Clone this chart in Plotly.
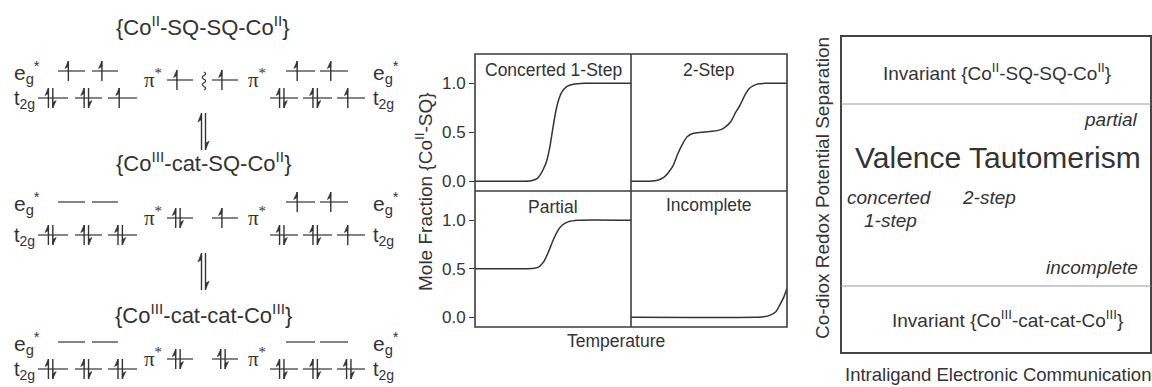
import plotly.graph_objects as go

# ---------------- data ----------------
t_concerted = [0.0, 0.30, 0.36, 0.40, 0.42, 0.44, 0.46, 0.48, 0.50, 0.52, 0.54, 0.56, 0.59, 0.63, 0.70, 1.0]
y_concerted = [0.0, 0.0, 0.005, 0.03, 0.07, 0.13, 0.21, 0.35, 0.55, 0.73, 0.85, 0.92, 0.97, 0.99, 1.0, 1.0]

t_two_step = [0.0, 0.12, 0.17, 0.21, 0.24, 0.27, 0.30, 0.33, 0.36, 0.40, 0.45, 0.52, 0.58, 0.61,
              0.64, 0.67, 0.70, 0.73, 0.76, 0.79, 0.82, 0.86, 1.0]
y_two_step = [0.0, 0.0, 0.01, 0.04, 0.09, 0.16, 0.28, 0.38, 0.455, 0.49, 0.50, 0.51, 0.53, 0.56,
              0.61, 0.70, 0.78, 0.88, 0.95, 0.98, 0.995, 1.0, 1.0]

t_partial = [0.0, 0.34, 0.38, 0.41, 0.44, 0.47, 0.50, 0.53, 0.56, 0.60, 0.66, 1.0]
y_partial = [0.5, 0.5, 0.505, 0.52, 0.57, 0.67, 0.79, 0.89, 0.95, 0.985, 1.0, 1.0]

t_incomplete = [0.0, 0.80, 0.85, 0.89, 0.93, 0.955, 0.98, 1.0]
y_incomplete = [0.0, 0.0, 0.005, 0.02, 0.06, 0.13, 0.21, 0.30]

tick_vals = [0.0, 0.5, 1.0]
tick_text = ["0.0", "0.5", "1.0"]
panel_titles = ["Concerted 1-Step", "2-Step", "Partial", "Incomplete"]

# electron occupancy of the level diagrams: 0 empty, 1 up, 2 pair
occ_left_eg = [[1, 1], [0, 0], [0, 0]]
occ_left_t2g = [[2, 2, 1], [2, 2, 2], [2, 2, 2]]
occ_left_pi = [1, 2, 2]
occ_right_pi = [1, 1, 2]
occ_right_eg = [[1, 1], [1, 1], [0, 0]]
occ_right_t2g = [[2, 2, 1], [2, 2, 1], [2, 2, 2]]
state_titles = ["{Co<sup>II</sup>-SQ-SQ-Co<sup>II</sup>}",
                "{Co<sup>III</sup>-cat-SQ-Co<sup>II</sup>}",
                "{Co<sup>III</sup>-cat-cat-Co<sup>III</sup>}"]
coupled = [True, False, False]

# ---------------- styling / geometry ----------------
W, H = 1152, 387
FONT = "Liberation Sans, Arial, sans-serif"
SERIF = "Liberation Serif, Times New Roman, serif"
INK = "#333333"
FRAME = "#3c3c3c"

fig = go.Figure()

L, M, R = 475, 631, 787
T, MID, B = 54, 191, 327


def dom_x(a, b):
    return [a / W, b / W]


def dom_y(top, bottom):
    return [1 - bottom / H, 1 - top / H]


panels = [
    ("", [L, M], [T, MID], t_concerted, y_concerted, True),
    ("2", [M, R], [T, MID], t_two_step, y_two_step, False),
    ("3", [L, M], [MID, B], t_partial, y_partial, True),
    ("4", [M, R], [MID, B], t_incomplete, y_incomplete, False),
]

for i, (n, xd, yd, tx, ty, left) in enumerate(panels):
    fig.add_trace(go.Scatter(x=tx, y=ty, mode="lines", xaxis="x" + n, yaxis="y" + n,
                             line=dict(color=INK, width=1.5, shape="spline", smoothing=0.6),
                             hoverinfo="skip", showlegend=False))
    fig.update_layout(**{
        "xaxis" + n: dict(domain=dom_x(*xd), range=[0, 1], anchor="y" + n, showgrid=False,
                          zeroline=False, showticklabels=False, ticks="", showline=False,
                          fixedrange=True),
        "yaxis" + n: dict(domain=dom_y(*yd), range=[-0.1, 1.3], anchor="x" + n, showgrid=False,
                          zeroline=False, showline=False, tickvals=tick_vals, ticktext=tick_text,
                          showticklabels=left, ticks="outside" if left else "",
                          ticklen=5, tickwidth=1.2, tickcolor=INK, fixedrange=True,
                          tickfont=dict(family=FONT, size=17, color=INK)),
    })

# pixel-space overlay axis for diagram + right panel
fig.add_trace(go.Scatter(x=[None], y=[None], xaxis="x5", yaxis="y5", showlegend=False,
                         hoverinfo="skip"))
fig.update_layout(
    xaxis5=dict(domain=[0, 1], range=[0, W], visible=False, anchor="y5", fixedrange=True),
    yaxis5=dict(domain=[0, 1], range=[H, 0], visible=False, anchor="x5", fixedrange=True),
)

shapes = []
ann = []


def A(x, y, text, size=17, xanchor="center", yanchor="middle", family=FONT, textangle=0):
    ann.append(dict(x=x, y=y, xref="x5", yref="y5", text=text, showarrow=False,
                    xanchor=xanchor, yanchor=yanchor, textangle=textangle,
                    font=dict(family=family, size=size, color=INK)))


def line(x0, y0, x1, y1, color=INK, width=1.2):
    shapes.append(dict(type="line", xref="x5", yref="y5", x0=x0, y0=y0, x1=x1, y1=y1,
                       line=dict(color=color, width=width)))


def barb(path):
    shapes.append(dict(type="path", xref="x5", yref="y5", path=path, fillcolor=INK,
                       line=dict(color=INK, width=0.6)))


def up(x, yc, h=10):
    line(x, yc + h, x, yc - h, width=1.4)
    barb(f"M {x},{yc-h} L {x-3.4},{yc-h+7.5} L {x},{yc-h+5.5} Z")


def down(x, yc, h=10):
    line(x, yc - h, x, yc + h, width=1.4)
    barb(f"M {x},{yc+h} L {x+3.4},{yc+h-7.5} L {x},{yc+h-5.5} Z")


def level(xa, xb, y, occ):
    line(xa, y, xb, y, width=1.2)
    c = xa + 0.42 * (xb - xa)
    if occ == 1:
        up(c - 1, y)
    elif occ == 2:
        up(c - 2.2, y)
        down(c + 2.2, y)


L_T2G = [(38, 68), (75, 102), (108, 137)]
L_EG = [(58, 85), (92, 118)]
L_PI = (167, 193)
R_PI = (212, 238)
R_EG = [(286, 315), (320, 348)]
R_T2G = [(270, 298), (303, 332), (337, 365)]

rows = [dict(title=26, eg=71, pi=80, t2g=98),
        dict(title=162, eg=202, pi=218, t2g=235),
        dict(title=314, eg=342, pi=359, t2g=369)]

for r, g in enumerate(rows):
    A(203, g["title"], state_titles[r], size=22)
    for k, (a, b) in enumerate(L_EG):
        level(a, b, g["eg"], occ_left_eg[r][k])
    for k, (a, b) in enumerate(L_T2G):
        level(a, b, g["t2g"], occ_left_t2g[r][k])
    for k, (a, b) in enumerate(R_EG):
        level(a, b, g["eg"], occ_right_eg[r][k])
    for k, (a, b) in enumerate(R_T2G):
        level(a, b, g["t2g"], occ_right_t2g[r][k])
    level(*L_PI, g["pi"], occ_left_pi[r])
    level(*R_PI, g["pi"], occ_right_pi[r])
    A(12, g["eg"] + 1, "e<sub>g</sub><sup>*</sup>", size=21, xanchor="left")
    A(12, g["t2g"] + 1, "t<sub>2g</sub>", size=20, xanchor="left")
    A(371, g["eg"] + 1, "e<sub>g</sub><sup>*</sup>", size=21, xanchor="left")
    A(371, g["t2g"] + 1, "t<sub>2g</sub>", size=20, xanchor="left")
    A(142, g["pi"] - 2, "π<sup>*</sup>", size=21, xanchor="left", family=SERIF)
    A(246, g["pi"] - 2, "π<sup>*</sup>", size=21, xanchor="left", family=SERIF)
    if coupled[r]:
        y0, y1 = g["eg"] + 1, g["pi"] + 10
        n = 5
        step = (y1 - y0) / n
        p = f"M 204,{y0}"
        for k in range(n):
            dx = 3.5 if k % 2 == 0 else -3.5
            p += f" Q {204+dx},{y0+step*(k+0.5)} 204,{y0+step*(k+1)}"
        shapes.append(dict(type="path", xref="x5", yref="y5", path=p,
                           line=dict(color=INK, width=1.1)))

# equilibrium arrows
for (ya, yb) in [(113, 150), (253, 290)]:
    xl, xr = 201.5, 205.5
    line(xl, yb, xl, ya, width=1.4)
    barb(f"M {xl},{ya} L {xl-3.6},{ya+9} L {xl},{ya+6.5} Z")
    line(xr, ya, xr, yb, width=1.4)
    barb(f"M {xr},{yb} L {xr+3.6},{yb-9} L {xr},{yb-6.5} Z")

# middle chart frame
shapes.append(dict(type="rect", xref="x5", yref="y5", x0=L, x1=R, y0=T, y1=B,
                   line=dict(color=FRAME, width=1.6)))
line(M, T, M, B, color=FRAME, width=1.6)
line(L, MID, R, MID, color=FRAME, width=1.6)

# middle chart labels
A(553, 70, panel_titles[0], size=17.5)
A(709, 70, panel_titles[1], size=17.5)
A(553, 207, panel_titles[2], size=17.5)
A(709, 205, panel_titles[3], size=17.5)
A(424, 192, "Mole Fraction {Co<sup>II</sup>-SQ}", size=19, textangle=-90)
A(616, 341, "Temperature", size=17.5)

# right panel
shapes.append(dict(type="rect", xref="x5", yref="y5", x0=841, x1=1151, y0=36, y1=353,
                   line=dict(color="#444444", width=2)))
line(841, 104, 1151, 104, color="#9a9a9a", width=1)
line(841, 286, 1151, 286, color="#9a9a9a", width=1)
A(997, 72, "Invariant {Co<sup>II</sup>-SQ-SQ-Co<sup>II</sup>}", size=19)
A(1140, 119, "<i>partial</i>", size=19, xanchor="right")
A(998, 157, "Valence Tautomerism", size=30)
A(845, 197, "<i>concerted</i>", size=19, xanchor="left")
A(862, 220, "<i>1-step</i>", size=19, xanchor="left")
A(960, 197, "<i>2-step</i>", size=19, xanchor="left")
A(1140, 267, "<i>incomplete</i>", size=19, xanchor="right")
A(1007, 319, "Invariant {Co<sup>III</sup>-cat-cat-Co<sup>III</sup>}", size=19)
A(822, 188, "Co-diox Redox Potential Separation", size=19, textangle=-90)
A(998, 374, "Intraligand Electronic Communication", size=18.5)

fig.update_layout(width=W, height=H, margin=dict(l=0, r=0, t=0, b=0),
                  paper_bgcolor="white", plot_bgcolor="rgba(0,0,0,0)",
                  shapes=shapes, annotations=ann, showlegend=False,
                  font=dict(family=FONT, color=INK))

fig.write_html("out.html")
